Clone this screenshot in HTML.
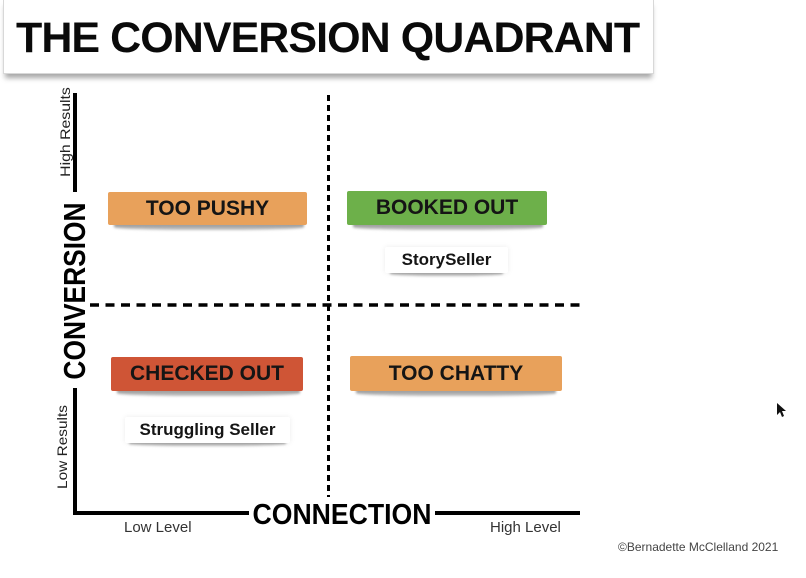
<!DOCTYPE html>
<html>
<head>
<meta charset="utf-8">
<style>
  html,body{margin:0;padding:0;}
  body{width:806px;height:578px;background:#fff;position:relative;overflow:hidden;font-family:"Liberation Sans",Arial,sans-serif;}
  .abs{position:absolute;}
  .title{left:3px;top:-2px;width:649px;height:75px;background:#fff;border:1px solid #d8d8d8;border-top:none;box-shadow:0 6px 5px -2px rgba(0,0,0,0.35);}
  .title span{position:absolute;left:12px;top:15px;font-weight:bold;font-size:43px;letter-spacing:-0.95px;color:#0a0a0a;white-space:nowrap;line-height:50px;}
  .box{position:absolute;display:flex;align-items:center;justify-content:center;font-weight:bold;color:#151515;white-space:nowrap;border-radius:2px;}
  .lbl{font-size:21px;}
  .sm{font-size:17px;background:#fff;box-shadow:0 0 6px rgba(0,0,0,0.08);}
  .shadow{position:absolute;height:7px;background:linear-gradient(#8d8d8d,#c4c4c4);filter:blur(1.2px);border-radius:0 0 40% 40%;}
  .rot{position:absolute;white-space:nowrap;transform-origin:center center;}
</style>
</head>
<body>
  <!-- title -->
  <div class="abs title"><span>THE CONVERSION QUADRANT</span></div>

  <!-- axes -->
  <svg class="abs" style="left:0;top:0" width="806" height="578">
    <!-- left vertical axis -->
    <rect x="73" y="93" width="4" height="99" fill="#000"/>
    <rect x="73" y="388" width="4" height="127" fill="#000"/>
    <!-- bottom axis -->
    <rect x="73" y="511" width="176" height="4" fill="#000"/>
    <rect x="435" y="511" width="145" height="4" fill="#000"/>
    <!-- dashed vertical -->
    <line x1="328.5" y1="95" x2="328.5" y2="497" stroke="#000" stroke-width="3" stroke-dasharray="6 4"/>
    <!-- dashed horizontal -->
    <line x1="90" y1="305" x2="581" y2="305" stroke="#000" stroke-width="3.5" stroke-dasharray="9 6.5"/>
    <!-- cursor -->
    <polygon points="777,403 777,415 780,412 782,417 784,416 782,411 786,411" fill="#111"/>
  </svg>

  <!-- vertical labels -->
  <div class="rot" style="left:15px;top:124px;width:100px;height:16px;line-height:16px;text-align:center;font-size:14px;color:#222;transform:rotate(-90deg) scaleX(1.13);">High Results</div>
  <div class="rot" style="left:12px;top:439px;width:100px;height:16px;line-height:16px;text-align:center;font-size:14px;color:#222;transform:rotate(-90deg) scaleX(1.1);">Low Results</div>
  <div class="rot" style="left:-35px;top:273px;width:220px;height:36px;line-height:36px;text-align:center;font-size:31px;font-weight:bold;color:#000;transform:rotate(-90deg) scaleX(0.85);">CONVERSION</div>

  <!-- bottom labels -->
  <div class="abs" style="left:232px;top:498px;width:220px;height:34px;line-height:34px;text-align:center;font-size:29px;font-weight:bold;color:#000;transform:scaleX(0.918);">CONNECTION</div>
  <div class="abs" style="left:124px;top:519px;font-size:15px;color:#333;line-height:18px;">Low Level</div>
  <div class="abs" style="left:490px;top:519px;font-size:15px;color:#333;line-height:18px;">High Level</div>
  <div class="abs" style="left:618px;top:540px;font-size:12px;color:#444;line-height:14px;white-space:nowrap;">©Bernadette McClelland 2021</div>

  <!-- TOO PUSHY -->
  <div class="shadow" style="left:114px;top:223px;width:190px;"></div>
  <div class="box lbl" style="left:108px;top:192px;width:199px;height:33px;background:#E8A15B;">TOO PUSHY</div>

  <!-- BOOKED OUT -->
  <div class="shadow" style="left:353px;top:223px;width:190px;"></div>
  <div class="box lbl" style="left:347px;top:191px;width:200px;height:34px;background:#6DB04A;">BOOKED OUT</div>

  <!-- StorySeller -->
  <div class="shadow" style="left:390px;top:270px;width:113px;height:6px;"></div>
  <div class="box sm" style="left:385px;top:247px;width:123px;height:26px;">StorySeller</div>

  <!-- CHECKED OUT -->
  <div class="shadow" style="left:117px;top:389px;width:183px;"></div>
  <div class="box lbl" style="left:111px;top:357px;width:192px;height:34px;background:#CF5536;">CHECKED OUT</div>

  <!-- Struggling Seller -->
  <div class="shadow" style="left:129px;top:440px;width:157px;height:6px;"></div>
  <div class="box sm" style="left:125px;top:417px;width:165px;height:26px;">Struggling Seller</div>

  <!-- TOO CHATTY -->
  <div class="shadow" style="left:356px;top:389px;width:200px;"></div>
  <div class="box lbl" style="left:350px;top:356px;width:212px;height:35px;background:#E8A15B;">TOO CHATTY</div>
</body>
</html>
